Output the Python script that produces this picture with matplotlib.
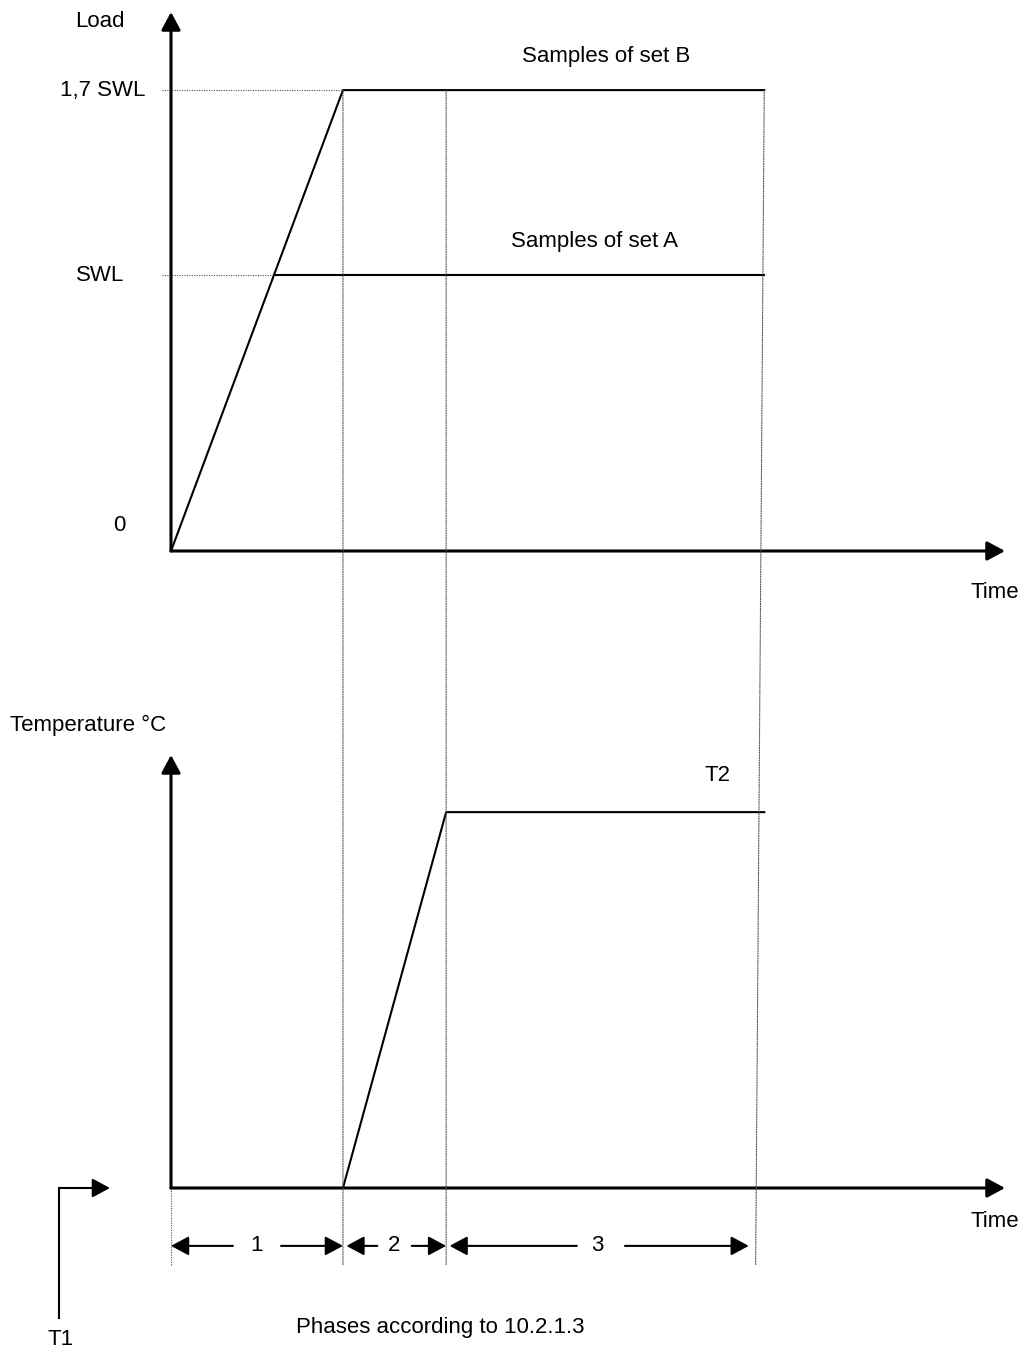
import matplotlib
matplotlib.use("Agg")
import matplotlib.pyplot as plt
from matplotlib.patches import ConnectionPatch

plt.rcParams['font.family'] = ['Liberation Sans', 'DejaVu Sans']
plt.rcParams['font.size'] = 16

# load diagram (time in arbitrary units, load in SWL)
t_load = [0.0, 1.0, 3.45]
load_b = [0.0, 1.67, 1.67]
load_a = 1.0
load_ticks = [0.0, 1.0, 1.67]
load_tick_labels = ['0', 'SWL', '1,7 SWL']

# temperature diagram (T1 -> 0, T2 -> 1)
t_temp = [0.0, 1.0, 1.6, 3.45]
temp = [0.0, 0.0, 1.0, 1.0]

# phases according to 10.2.1.3
phase_bounds = [0.0, 1.0, 1.6, 3.4]
phase_labels = ['1', '2', '3']
phase_gaps = [0.14, 0.1, 0.14]

W, H = 1027, 1356
fig = plt.figure(figsize=(W / 100, H / 100), dpi=100)
ax_top = fig.add_axes([171 / W, (H - 551) / H, 834 / W, 539 / H])
ax_bot = fig.add_axes([171 / W, (H - 1188) / H, 834 / W, 433 / H])

xmax = 4.85
ax_top.set_xlim(0, xmax)
ax_top.set_ylim(0, 1.953)
ax_bot.set_xlim(0, xmax)
ax_bot.set_ylim(0, 1.152)

for ax in (ax_top, ax_bot):
    ax.set_axis_off()

dot = dict(color='#505050', lw=0.8, linestyle=(0, (1, 1.2)))
head = dict(arrowstyle='-|>,head_length=0.54,head_width=0.29',
            mutation_scale=20, color='black', shrinkA=0, shrinkB=0)


def axis_arrow(ax, start, end, lw=2.2):
    ax.annotate('', xy=end, xytext=start, xycoords='data',
                arrowprops=dict(head, lw=lw), annotation_clip=False)


# ---- top: load ----
axis_arrow(ax_top, (0, 0), (0, ax_top.get_ylim()[1]))
axis_arrow(ax_top, (0, 0), (xmax, 0))
ax_top.plot(t_load, load_b, color='black', lw=1.5, clip_on=False)
t_cross = t_load[1] * load_a / load_b[1]
ax_top.plot([t_cross, t_load[-1]], [load_a, load_a], color='black', lw=1.5,
            clip_on=False)
ax_top.plot([-0.05, t_load[1]], [load_ticks[2], load_ticks[2]], **dot,
            clip_on=False)
ax_top.plot([-0.05, t_cross], [load_ticks[1], load_ticks[1]], **dot,
            clip_on=False)

ax_top.text(-0.413, 1.917, 'Load', ha='center', va='center')
ax_top.text(-0.15, load_ticks[2], load_tick_labels[2], ha='right',
            va='center')
ax_top.text(-0.413, load_ticks[1], load_tick_labels[1], ha='center',
            va='center')
ax_top.text(-0.30, 0.094, load_tick_labels[0], ha='center', va='center')
ax_top.text(4.79, -0.152, 'Time', ha='center', va='center')
ax_top.text(2.53, 1.79, 'Samples of set B', ha='center', va='center')
ax_top.text(2.465, 1.12, 'Samples of set A', ha='center', va='center')

# ---- bottom: temperature ----
axis_arrow(ax_bot, (0, 0), (0, ax_bot.get_ylim()[1]))
axis_arrow(ax_bot, (0, 0), (xmax, 0))
ax_bot.plot(t_temp, temp, color='black', lw=1.5, clip_on=False)

ax_bot.text(-0.936, 1.231, 'Temperature \u00b0C', ha='left', va='center')
ax_bot.text(3.18, 1.098, 'T2', ha='center', va='center')
ax_bot.text(4.79, -0.09, 'Time', ha='center', va='center')

# T1 marker
ax_bot.plot([-0.651, -0.651], [-0.346, 0.0], color='black', lw=1.5,
            clip_on=False)
axis_arrow(ax_bot, (-0.651, 0.0), (-0.355, 0.0), lw=1.5)
ax_bot.text(-0.64, -0.404, 'T1', ha='center', va='center')

# dotted phase boundaries running through both diagrams
y_low = -0.205
ax_bot.plot([phase_bounds[0], phase_bounds[0]], [0, y_low], **dot,
            clip_on=False)
tops = [t_load[1], t_temp[2], t_load[2]]
for t_up, t_dn in zip(tops, phase_bounds[1:]):
    con = ConnectionPatch(xyA=(t_up, load_b[1]), coordsA=ax_top.transData,
                          xyB=(t_dn, y_low), coordsB=ax_bot.transData,
                          **dot)
    fig.add_artist(con)

# phase arrows
y_ph = -0.154
for i, lab in enumerate(phase_labels):
    a, b = phase_bounds[i], phase_bounds[i + 1]
    mid = (a + b) / 2
    g = phase_gaps[i]
    axis_arrow(ax_bot, (mid - g, y_ph), (a + 0.02 * (i > 0), y_ph), lw=1.5)
    axis_arrow(ax_bot, (mid + g, y_ph), (b - 0.04 * (i == 2), y_ph), lw=1.5)
    ax_bot.text(mid - 0.02 * (i == 2), y_ph, lab, ha='center', va='center')

ax_bot.text(1.564, -0.372, 'Phases according to 10.2.1.3', ha='center',
            va='center')

fig.savefig('out.png', dpi=100)
